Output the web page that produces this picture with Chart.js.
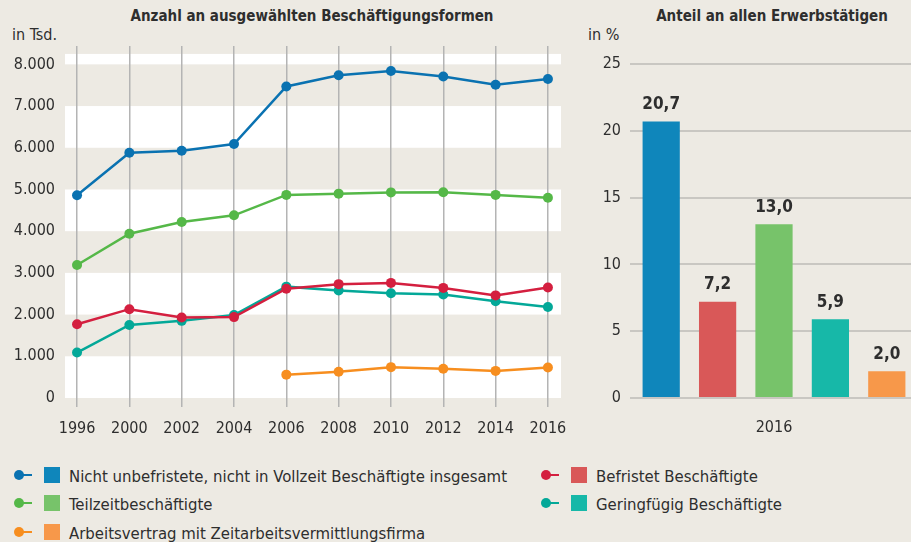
<!DOCTYPE html>
<html lang="de">
<head>
<meta charset="utf-8">
<title>Beschäftigungsformen</title>
<script src="https://cdn.jsdelivr.net/npm/chart.js@4.4.1/dist/chart.umd.min.js"></script>
<style>
  body {
    margin: 0;
    width: 911px;
    height: 542px;
    overflow: hidden;
    position: relative;
    background: #edeae3;
    color: #2e2e2e;
    font-family: "Liberation Sans Narrow", "DejaVu Sans Condensed", sans-serif;
  }
  .txt { position: absolute; white-space: nowrap; line-height: 1; }
  .head { font-weight: bold; font-size: 15px; transform: translateX(-50%); }
  .unit { font-size: 16px; }
  #lineBox { position: absolute; left: 0; top: 0; width: 580px; height: 440px; }
  #barBox { position: absolute; left: 575px; top: 0; width: 336px; height: 440px; overflow: hidden; }
  .leg { position: absolute; height: 20px; font-size: 16.6px; }
  .leg .dot { position: absolute; left: 0; top: 5px; width: 10px; height: 10px; border-radius: 50%; }
  .leg .stem { position: absolute; left: 5px; top: 9px; width: 13px; height: 2px; }
  .leg .sq { position: absolute; left: 30px; top: 2px; width: 16px; height: 16px; }
  .leg .lab { position: absolute; left: 55px; top: 2px; white-space: nowrap; }
</style>
</head>
<body>

<div class="txt head" style="left:312px; top:9px;">Anzahl an ausgewählten Beschäftigungsformen</div>
<div class="txt unit" style="left:12px; top:27px;">in Tsd.</div>
<div class="txt head" style="left:772px; top:9px;">Anteil an allen Erwerbstätigen</div>
<div class="txt unit" style="left:588px; top:27px;">in %</div>

<div id="lineBox"><canvas id="lineChart" width="580" height="440"></canvas></div>
<div id="barBox"><canvas id="barChart" width="340" height="440"></canvas></div>
<div id="legend"></div>

<script>
// Daten
const years = ['1996', '2000', '2002', '2004', '2006', '2008', '2010', '2012', '2014', '2016'];
const seriesNames = [
    'Nicht unbefristete, nicht in Vollzeit Beschäftigte insgesamt',
    'Befristet Beschäftigte',
    'Teilzeitbeschäftigte',
    'Geringfügig Beschäftigte',
    'Arbeitsvertrag mit Zeitarbeitsvermittlungsfirma'
];
// in Tsd.
const nichtVollzeit = [4860, 5880, 5930, 6090, 7470, 7740, 7840, 7710, 7510, 7650];
const befristet = [1770, 2130, 1930, 1940, 2620, 2730, 2760, 2640, 2460, 2650];
const teilzeit = [3190, 3940, 4220, 4380, 4870, 4900, 4930, 4935, 4870, 4800];
const geringfuegig = [1090, 1750, 1850, 1990, 2670, 2580, 2510, 2480, 2320, 2180];
const zeitarbeit = [null, null, null, null, 560, 630, 740, 700, 650, 730];
const lineTicks = [0, 1000, 2000, 3000, 4000, 5000, 6000, 7000, 8000];
// Anteil an allen Erwerbstätigen 2016, in %
const shareYear = ['2016'];
const shares = [20.7, 7.2, 13.0, 5.9, 2.0];
const shareTicks = [0, 5, 10, 15, 20, 25];

const lineSeries = [nichtVollzeit, befristet, teilzeit, geringfuegig, zeitarbeit];
const lineColors = ['#0a72b1', '#d41f3f', '#55b848', '#03a898', '#f78e1f'];
const barColors = ['#0f86bb', '#d95858', '#77c36a', '#17b8a8', '#f7984a'];

const FONT = '"Liberation Sans Narrow", "DejaVu Sans Condensed", sans-serif';
const TEXT = '#2e2e2e';
const bandTop = 8250;

function thousands(v) {
    return String(v).replace(/\B(?=(\d{3})+(?!\d))/g, '.');
}
function decimalComma(v) {
    return v.toFixed(1).replace('.', ',');
}

// weiße Bänder hinter den Linien
const bandPlugin = {
    id: 'bands',
    beforeDraw(chart) {
        const { ctx, chartArea } = chart;
        const y = chart.scales.y;
        ctx.save();
        ctx.fillStyle = '#ffffff';
        lineTicks.forEach((v, i) => {
            if (i % 2 !== 0) return;
            const top = y.getPixelForValue(Math.min(v + 1000, bandTop));
            const bottom = y.getPixelForValue(v);
            ctx.fillRect(chartArea.left, top, chartArea.right - chartArea.left, bottom - top);
        });
        ctx.restore();
    }
};

// Werte über den Balken
const valueLabels = {
    id: 'valueLabels',
    afterDatasetsDraw(chart) {
        const ctx = chart.ctx;
        ctx.save();
        ctx.font = 'bold 17px ' + FONT;
        ctx.fillStyle = TEXT;
        ctx.textAlign = 'center';
        ctx.textBaseline = 'middle';
        chart.data.datasets.forEach((ds, i) => {
            const bar = chart.getDatasetMeta(i).data[0];
            ctx.fillText(decimalComma(ds.data[0]), bar.x, bar.y - 17);
        });
        ctx.restore();
    }
};

Chart.defaults.font.family = FONT;
Chart.defaults.color = TEXT;

// Linienchart
new Chart(document.getElementById('lineChart'), {
    type: 'line',
    data: {
        datasets: lineSeries.map((vals, i) => ({
            label: seriesNames[i],
            data: vals.map((v, j) => ({ x: j, y: v })),
            borderColor: lineColors[i],
            backgroundColor: lineColors[i],
            borderWidth: 2.5,
            pointRadius: 5,
            pointBorderWidth: 0,
            tension: 0,
            spanGaps: false
        }))
    },
    options: {
        responsive: false,
        animation: false,
        layout: { padding: { top: 46, right: 19, left: 0, bottom: 0 } },
        plugins: { legend: { display: false }, tooltip: { enabled: false } },
        scales: {
            x: {
                type: 'linear',
                min: -0.23,
                max: 9.25,
                afterFit(scale) { scale.height = 42; },
                afterBuildTicks(scale) { scale.ticks = years.map((_, i) => ({ value: i })); },
                border: { display: false },
                grid: { color: '#b4b4b4', lineWidth: 1.5, drawTicks: true, tickLength: 9 },
                ticks: {
                    padding: 12,
                    font: { size: 16 },
                    callback: v => years[v]
                }
            },
            y: {
                min: 0,
                max: 8440,
                afterFit(scale) { scale.width = 65; },
                afterBuildTicks(scale) { scale.ticks = lineTicks.map(v => ({ value: v })); },
                border: { display: false },
                grid: { display: false, drawTicks: false },
                ticks: {
                    padding: 10,
                    font: { size: 16 },
                    callback: v => thousands(v)
                }
            }
        }
    },
    plugins: [bandPlugin]
});

// Balkenchart
new Chart(document.getElementById('barChart'), {
    type: 'bar',
    data: {
        labels: shareYear,
        datasets: shares.map((v, i) => ({
            label: seriesNames[i],
            data: [v],
            backgroundColor: barColors[i],
            categoryPercentage: 1,
            barPercentage: 0.66
        }))
    },
    options: {
        responsive: false,
        animation: false,
        layout: { padding: { top: 64, right: 0, left: 0, bottom: 0 } },
        plugins: { legend: { display: false }, tooltip: { enabled: false } },
        scales: {
            x: {
                afterFit(scale) { scale.height = 42; },
                border: { display: false },
                grid: { display: false },
                ticks: { padding: 12, font: { size: 16 } }
            },
            y: {
                min: 0,
                max: 25,
                afterFit(scale) { scale.width = 58; },
                afterBuildTicks(scale) { scale.ticks = shareTicks.map(v => ({ value: v })); },
                border: { display: false },
                grid: { color: '#c9c7c2', lineWidth: 2, drawTicks: true, tickLength: 3 },
                ticks: { padding: 9, font: { size: 16 } }
            }
        }
    },
    plugins: [valueLabels]
});

// Legende
const legend = document.getElementById('legend');
const rowTop = [465, 493, 522];
const colLeft = [14, 541];
seriesNames.forEach((name, i) => {
    const item = document.createElement('div');
    item.className = 'leg';
    item.style.left = colLeft[i % 2] + 'px';
    item.style.top = rowTop[Math.floor(i / 2)] + 'px';
    item.innerHTML =
        '<span class="stem" style="background:' + lineColors[i] + '"></span>' +
        '<span class="dot" style="background:' + lineColors[i] + '"></span>' +
        '<span class="sq" style="background:' + barColors[i] + '"></span>' +
        '<span class="lab">' + name + '</span>';
    legend.appendChild(item);
});
</script>
</body>
</html>
